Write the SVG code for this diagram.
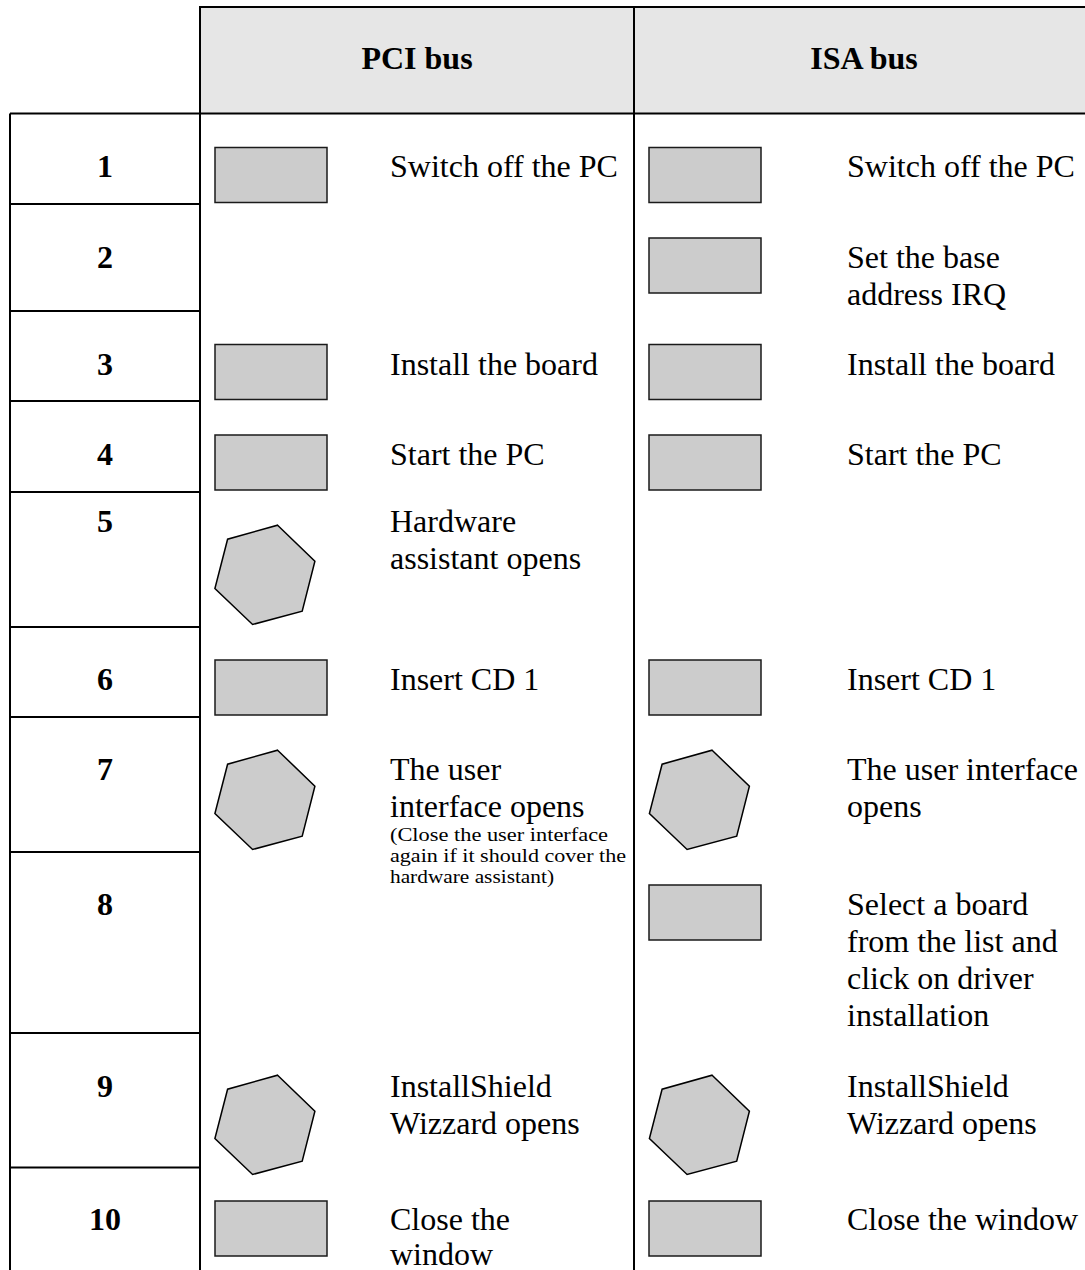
<svg xmlns="http://www.w3.org/2000/svg" width="1085" height="1270" viewBox="0 0 1085 1270">
<style>
.ln{stroke:#000;stroke-width:2;fill:none}
.box{fill:#cccccc;stroke:#1a1a1a;stroke-width:1.5}
.hex{fill:#cccccc;stroke:#000;stroke-width:1.5;stroke-linejoin:miter}
.t{font-family:"Liberation Serif","Times New Roman",serif;font-size:32px;fill:#000}
.b{font-family:"Liberation Serif","Times New Roman",serif;font-size:32px;font-weight:bold;fill:#000;text-anchor:middle}
.s{font-family:"Liberation Serif","Times New Roman",serif;font-size:19px;fill:#000}
</style>
<defs>
<rect id="r" width="112" height="55" class="box"/>
<polygon id="h" class="hex" points="12.6,-49.8 49.9,-13.8 37.2,36.2 -12.4,49.5 -50.1,13.5 -37.4,-35.8"/>
</defs>
<rect x="0" y="0" width="1085" height="1270" fill="#fff"/>
<g id="header">
<rect x="200" y="7" width="895" height="106.5" fill="#e6e6e6"/>
<text class="b" x="417" y="69">PCI bus</text>
<text class="b" x="864" y="69">ISA bus</text>
</g>
<g id="connectors">
<line class="ln" x1="200" y1="7" x2="1085" y2="7"/>
<line class="ln" x1="10" y1="113.5" x2="1085" y2="113.5"/>
<line class="ln" x1="10" y1="113.5" x2="10" y2="1270"/>
<line class="ln" x1="200" y1="6" x2="200" y2="1270"/>
<line class="ln" x1="634" y1="6" x2="634" y2="1270"/>
<line class="ln" x1="10" y1="204" x2="200" y2="204"/>
<line class="ln" x1="10" y1="311" x2="200" y2="311"/>
<line class="ln" x1="10" y1="401" x2="200" y2="401"/>
<line class="ln" x1="10" y1="492" x2="200" y2="492"/>
<line class="ln" x1="10" y1="627" x2="200" y2="627"/>
<line class="ln" x1="10" y1="717" x2="200" y2="717"/>
<line class="ln" x1="10" y1="852" x2="200" y2="852"/>
<line class="ln" x1="10" y1="1033" x2="200" y2="1033"/>
<line class="ln" x1="10" y1="1167.5" x2="200" y2="1167.5"/>
</g>
<g id="row1">
<text class="b" x="105" y="177">1</text>
<use href="#r" x="215" y="147.5"/>
<text class="t" x="390" y="177">Switch off the PC</text>
<use href="#r" x="649" y="147.5"/>
<text class="t" x="847" y="177">Switch off the PC</text>
</g>
<g id="row2">
<text class="b" x="105" y="268">2</text>
<use href="#r" x="649" y="238"/>
<text class="t" x="847" y="268">Set the base</text>
<text class="t" x="847" y="305">address IRQ</text>
</g>
<g id="row3">
<text class="b" x="105" y="375">3</text>
<use href="#r" x="215" y="344.5"/>
<text class="t" x="390" y="375">Install the board</text>
<use href="#r" x="649" y="344.5"/>
<text class="t" x="847" y="375">Install the board</text>
</g>
<g id="row4">
<text class="b" x="105" y="465">4</text>
<use href="#r" x="215" y="435"/>
<text class="t" x="390" y="465">Start the PC</text>
<use href="#r" x="649" y="435"/>
<text class="t" x="847" y="465">Start the PC</text>
</g>
<g id="row5">
<text class="b" x="105" y="532">5</text>
<use href="#h" x="265" y="575"/>
<text class="t" x="390" y="532">Hardware</text>
<text class="t" x="390" y="569">assistant opens</text>
</g>
<g id="row6">
<text class="b" x="105" y="690">6</text>
<use href="#r" x="215" y="660"/>
<text class="t" x="390" y="690">Insert CD 1</text>
<use href="#r" x="649" y="660"/>
<text class="t" x="847" y="690">Insert CD 1</text>
</g>
<g id="row7">
<text class="b" x="105" y="780">7</text>
<use href="#h" x="265" y="800"/>
<text class="t" x="390" y="780">The user</text>
<text class="t" x="390" y="817">interface opens</text>
<text class="s" x="390" y="841" textLength="218" lengthAdjust="spacingAndGlyphs">(Close the user interface</text>
<text class="s" x="390" y="862" textLength="236" lengthAdjust="spacingAndGlyphs">again if it should cover the</text>
<text class="s" x="390" y="883" textLength="164" lengthAdjust="spacingAndGlyphs">hardware assistant)</text>
<use href="#h" x="699.5" y="800"/>
<text class="t" x="847" y="780">The user interface</text>
<text class="t" x="847" y="817">opens</text>
</g>
<g id="row8">
<text class="b" x="105" y="915">8</text>
<use href="#r" x="649" y="885"/>
<text class="t" x="847" y="915">Select a board</text>
<text class="t" x="847" y="952">from the list and</text>
<text class="t" x="847" y="989">click on driver</text>
<text class="t" x="847" y="1026">installation</text>
</g>
<g id="row9">
<text class="b" x="105" y="1097">9</text>
<use href="#h" x="265" y="1125"/>
<text class="t" x="390" y="1097">InstallShield</text>
<text class="t" x="390" y="1134">Wizzard opens</text>
<use href="#h" x="699.5" y="1125"/>
<text class="t" x="847" y="1097">InstallShield</text>
<text class="t" x="847" y="1134">Wizzard opens</text>
</g>
<g id="row10">
<text class="b" x="105" y="1230">10</text>
<use href="#r" x="215" y="1201"/>
<text class="t" x="390" y="1230">Close the</text>
<text class="t" x="390" y="1265">window</text>
<use href="#r" x="649" y="1201"/>
<text class="t" x="847" y="1230">Close the window</text>
</g>
</svg>
